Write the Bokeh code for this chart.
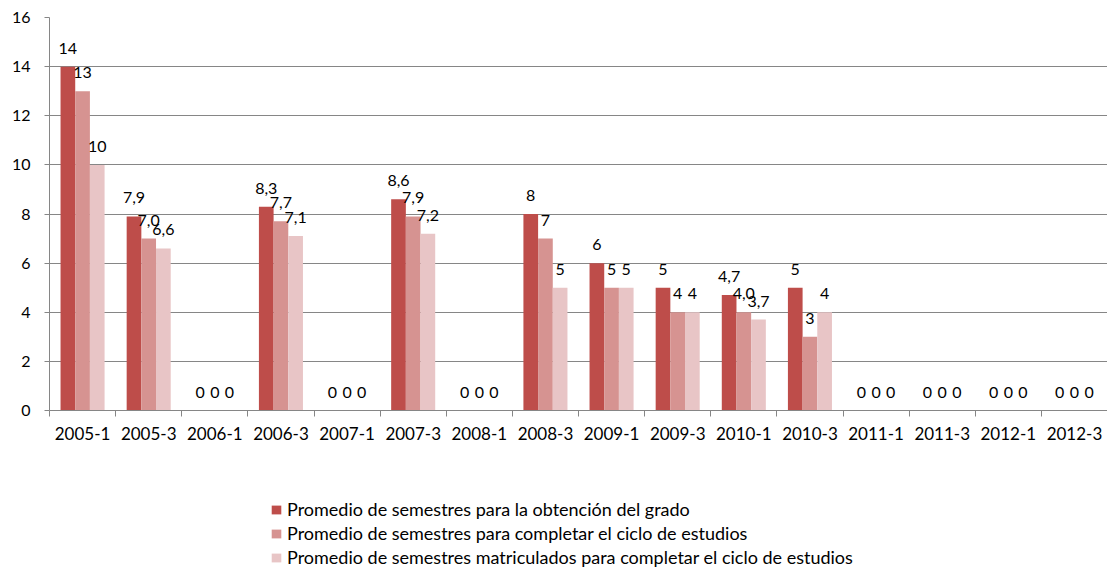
from bokeh.plotting import figure
from bokeh.layouts import column
from bokeh.models import (ColumnDataSource, LabelSet, Legend, LegendItem,
                          FixedTicker, SingleIntervalTicker, Range1d)
from bokeh.core.properties import value
from bokeh.transform import dodge
from bokeh.embed import file_html
from bokeh.resources import INLINE

categories = ["2005-1", "2005-3", "2006-1", "2006-3", "2007-1", "2007-3", "2008-1", "2008-3",
              "2009-1", "2009-3", "2010-1", "2010-3", "2011-1", "2011-3", "2012-1", "2012-3"]
grado = [14, 7.9, 0, 8.3, 0, 8.6, 0, 8, 6, 5, 4.7, 5, 0, 0, 0, 0]
completar = [13, 7.0, 0, 7.7, 0, 7.9, 0, 7, 5, 4, 4.0, 3, 0, 0, 0, 0]
matriculados = [10, 6.6, 0, 7.1, 0, 7.2, 0, 5, 5, 4, 3.7, 4, 0, 0, 0, 0]
grado_labels = ["14", "7,9", "0", "8,3", "0", "8,6", "0", "8", "6", "5", "4,7", "5", "0", "0", "0", "0"]
completar_labels = ["13", "7,0", "0", "7,7", "0", "7,9", "0", "7", "5", "4", "4,0", "3", "0", "0", "0", "0"]
matriculados_labels = ["10", "6,6", "0", "7,1", "0", "7,2", "0", "5", "5", "4", "3,7", "4", "0", "0", "0", "0"]
series_names = ["Promedio de semestres para la obtención del grado",
                "Promedio de semestres para completar el ciclo de estudios",
                "Promedio de semestres matriculados para completar el ciclo de estudios"]
colors = ["#BE4D4A", "#D69391", "#E8C5C6"]

FONT = "Lato"
n = len(categories)
centers = [i + 0.5 for i in range(n)]
boundaries = [float(i) for i in range(n + 1)]

source = ColumnDataSource(dict(x=centers, cat=categories,
                               s0=grado, s1=completar, s2=matriculados,
                               l0=grado_labels, l1=completar_labels, l2=matriculados_labels))

p = figure(width=1107, height=460, output_backend="svg", toolbar_location=None,
           x_range=Range1d(0, n), y_range=Range1d(0, 16),
           min_border_left=49, min_border_right=0, min_border_top=17, min_border_bottom=50)
p.outline_line_color = None
p.background_fill_color = "white"
p.border_fill_color = "white"

bw = 0.222
offsets = [-bw, 0, bw]
for k in range(3):
    p.vbar(x=dodge("x", offsets[k]), top="s%d" % k, width=bw, source=source,
           fill_color=colors[k], line_color=None)
    lbl = LabelSet(x=dodge("x", offsets[k]), y="s%d" % k, text="l%d" % k, source=source,
                   text_align="center", text_baseline="alphabetic", y_offset=13,
                   text_font=value(FONT), text_font_size=value("16px"), text_color="black")
    p.add_layout(lbl)

p.xgrid.grid_line_color = None
p.ygrid.grid_line_color = "#868686"
p.ygrid.grid_line_width = 1

p.yaxis.ticker = SingleIntervalTicker(interval=2)
p.yaxis.axis_line_color = "#868686"
p.yaxis.major_tick_line_color = "#868686"
p.yaxis.major_tick_out = 5
p.yaxis.major_tick_in = 0
p.yaxis.minor_tick_line_color = None
p.yaxis.major_label_text_font = FONT
p.yaxis.major_label_text_font_size = "16px"
p.yaxis.major_label_text_font_style = "normal"
p.yaxis.major_label_text_color = "black"
p.yaxis.major_label_standoff = 14

p.xaxis.ticker = FixedTicker(ticks=centers, minor_ticks=boundaries)
p.xaxis.major_label_overrides = {c: name for c, name in zip(centers, categories)}
p.xaxis.axis_line_color = "#868686"
p.xaxis.major_tick_line_color = None
p.xaxis.minor_tick_line_color = "#868686"
p.xaxis.minor_tick_out = 6
p.xaxis.minor_tick_in = 0
p.xaxis.major_label_text_font = FONT
p.xaxis.major_label_text_font_size = "17px"
p.xaxis.major_label_text_font_style = "normal"
p.xaxis.major_label_text_color = "black"
p.xaxis.major_label_standoff = 10

# legend panel (swatches come from the same series, drawn outside the visible range)
pl = figure(width=1107, height=108, output_backend="svg", toolbar_location=None,
            x_range=Range1d(-100, -99), y_range=Range1d(-100, -99),
            x_axis_type=None, y_axis_type=None,
            min_border_left=0, min_border_right=0, min_border_top=0, min_border_bottom=0)
pl.outline_line_color = None
pl.grid.grid_line_color = None
leg_renderers = []
for k in range(3):
    r = pl.vbar(x="x", top="s%d" % k, width=bw, source=source,
                fill_color=colors[k], line_color=None)
    leg_renderers.append(r)

legend = Legend(items=[LegendItem(label=series_names[k], renderers=[leg_renderers[k]]) for k in range(3)],
                location=(221, 0), orientation="vertical",
                glyph_width=12, glyph_height=11, label_height=22, spacing=2,
                label_standoff=5, padding=0, margin=0,
                border_line_color=None, background_fill_alpha=0,
                label_text_font=FONT, label_text_font_size="18px", label_text_color="black")
pl.add_layout(legend, "center")

layout = column(p, pl, spacing=0)
open("out.html", "w").write(file_html(layout, INLINE))
